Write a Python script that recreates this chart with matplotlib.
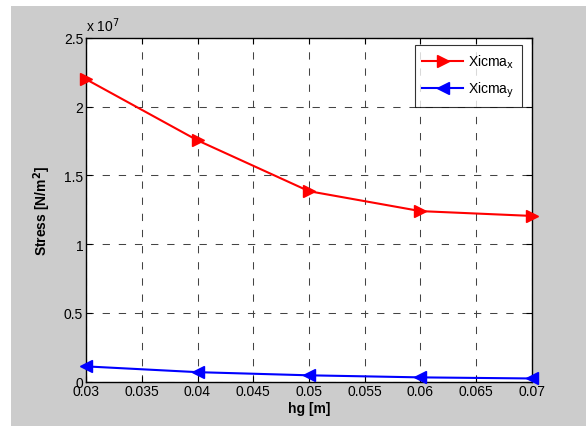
import matplotlib
matplotlib.use("Agg")
import matplotlib.pyplot as plt
from matplotlib.patches import Rectangle

plt.rcParams['font.family'] = ['Liberation Sans', 'DejaVu Sans']

hg = [0.03, 0.04, 0.05, 0.06, 0.07]
xicma_x = [2.20e7, 1.755e7, 1.385e7, 1.24e7, 1.205e7]
xicma_y = [1.10e6, 0.68e6, 0.45e6, 0.30e6, 0.22e6]
xticks = [0.03, 0.035, 0.04, 0.045, 0.05, 0.055, 0.06, 0.065, 0.07]
xtick_labels = ['0.03', '0.035', '0.04', '0.045', '0.05', '0.055', '0.06', '0.065', '0.07']
yticks = [0, 0.5e7, 1e7, 1.5e7, 2e7, 2.5e7]
ytick_labels = ['0', '0.5', '1', '1.5', '2', '2.5']

W, H = 586, 427
fig = plt.figure(figsize=(W / 100, H / 100), dpi=100, facecolor='white')
fig.patches.append(Rectangle((11 / W, 0), 1 - 11 / W, 1 - 7 / H,
                             transform=fig.transFigure, facecolor='#cccccc',
                             edgecolor='none', zorder=-10))

left, right, top, bottom = 86, 532, 39, 382.5
ax = fig.add_axes([left / W, 1 - bottom / H, (right - left) / W, (bottom - top) / H])
ax.set_facecolor('white')

ax.plot(hg, xicma_x, color='red', lw=1.5, marker='>', markersize=8,
        label='Xicma$_{\\mathrm{x}}$', clip_on=False, zorder=5)
ax.plot(hg, xicma_y, color='blue', lw=1.5, marker='<', markersize=8,
        label='Xicma$_{\\mathrm{y}}$', clip_on=False, zorder=5)

ax.set_xlim(0.03, 0.07)
ax.set_ylim(0, 2.5e7)
ax.set_xticks(xticks)
ax.set_xticklabels(xtick_labels)
ax.set_yticks(yticks)
ax.set_yticklabels(ytick_labels)
ax.tick_params(direction='in', top=True, right=True, length=4, width=0.8,
               labelsize=10, pad=2)
ax.grid(True, color='#444444', linestyle=(0, (7, 8.5)), linewidth=0.75)
for s in ax.spines.values():
    s.set_linewidth(1.0)

ax.set_xlabel('hg [m]', fontsize=10, fontweight='bold', labelpad=2)
ax.set_ylabel('Stress [N/m$^{\\mathbf{2}}$]', fontsize=10, fontweight='bold', labelpad=8)
ax.text(0.0, 1.012, 'x 10$^{7}$', transform=ax.transAxes, fontsize=10,
        ha='left', va='bottom')

leg = ax.legend(loc='upper right', bbox_to_anchor=(0.9776, 0.98), borderaxespad=0,
                fontsize=10, frameon=True, fancybox=False, edgecolor='black',
                handlelength=2.9, handletextpad=0.4, borderpad=0.55,
                labelspacing=0.7)
leg.get_frame().set_linewidth(0.8)

fig.savefig('out.png', dpi=100, facecolor=fig.get_facecolor())
